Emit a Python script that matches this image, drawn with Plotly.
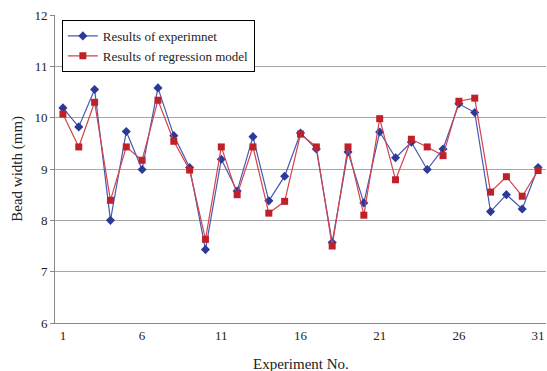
import plotly.graph_objects as go

experiment_no = list(range(1, 32))
results_experiment = [10.19, 9.82, 10.55, 8.00, 9.73, 8.99, 10.58, 9.65, 9.03, 7.43,
                      9.19, 8.57, 9.63, 8.38, 8.86, 9.70, 9.39, 7.57, 9.33, 8.34,
                      9.72, 9.22, 9.52, 8.99, 9.39, 10.27, 10.10, 8.17, 8.50, 8.22, 9.03]
results_regression = [10.07, 9.43, 10.30, 8.39, 9.43, 9.17, 10.34, 9.54, 8.98, 7.63,
                      9.43, 8.50, 9.43, 8.14, 8.37, 9.68, 9.43, 7.50, 9.43, 8.10,
                      9.98, 8.79, 9.58, 9.43, 9.26, 10.32, 10.38, 8.55, 8.85, 8.47, 8.97]
x_tick_vals = [1, 6, 11, 16, 21, 26, 31]
y_tick_vals = [6, 7, 8, 9, 10, 11, 12]

font_family = "Liberation Serif, Times New Roman, serif"

fig = go.Figure()
fig.add_trace(go.Scatter(
    x=experiment_no, y=results_experiment, mode="lines+markers",
    name="Results of experimnet",
    line=dict(color="#4a57b0", width=1.2),
    marker=dict(symbol="diamond", size=7, color="#2b3a98"),
))
fig.add_trace(go.Scatter(
    x=experiment_no, y=results_regression, mode="lines+markers",
    name="Results of regression model",
    line=dict(color="#d2434b", width=1.2),
    marker=dict(symbol="square", size=7, color="#c0202a"),
))

fig.update_layout(
    width=547, height=371,
    margin=dict(l=55, r=1, t=15, b=48, autoexpand=False),
    paper_bgcolor="white", plot_bgcolor="white",
    font=dict(family=font_family, size=13, color="#222"),
    showlegend=True,
    legend=dict(
        x=0.014, y=0.984, xanchor="left", yanchor="top",
        bgcolor="white", bordercolor="black", borderwidth=1,
        font=dict(family=font_family, size=13, color="#222"),
        tracegroupgap=0, itemwidth=30,
    ),
    xaxis=dict(
        range=[0.5, 31.5], tickvals=x_tick_vals, showgrid=False,
        showline=True, linecolor="#888", linewidth=1, ticks="",
        zeroline=False, automargin=False,
        tickfont=dict(family=font_family, size=13),
    ),
    yaxis=dict(
        range=[6, 12], tickvals=y_tick_vals, showgrid=True,
        gridcolor="#a6a6a6", gridwidth=1,
        showline=True, linecolor="#888", linewidth=1,
        ticks="outside", ticklen=4, tickcolor="#888",
        zeroline=False, automargin=False,
        tickfont=dict(family=font_family, size=13),
    ),
    annotations=[
        dict(text="Experiment No.", xref="paper", yref="paper", x=0.5, y=-0.1,
             xanchor="center", yanchor="top", showarrow=False,
             font=dict(family=font_family, size=15, color="#222")),
        dict(text="Bead width (mm)", xref="paper", yref="paper", x=-0.078, y=0.5,
             xanchor="center", yanchor="middle", showarrow=False, textangle=-90,
             font=dict(family=font_family, size=15, color="#222")),
    ],
)

fig.write_html("out.html", config={"displayModeBar": False},
               post_script="document.body.style.margin='0';document.body.style.overflow='hidden';")
